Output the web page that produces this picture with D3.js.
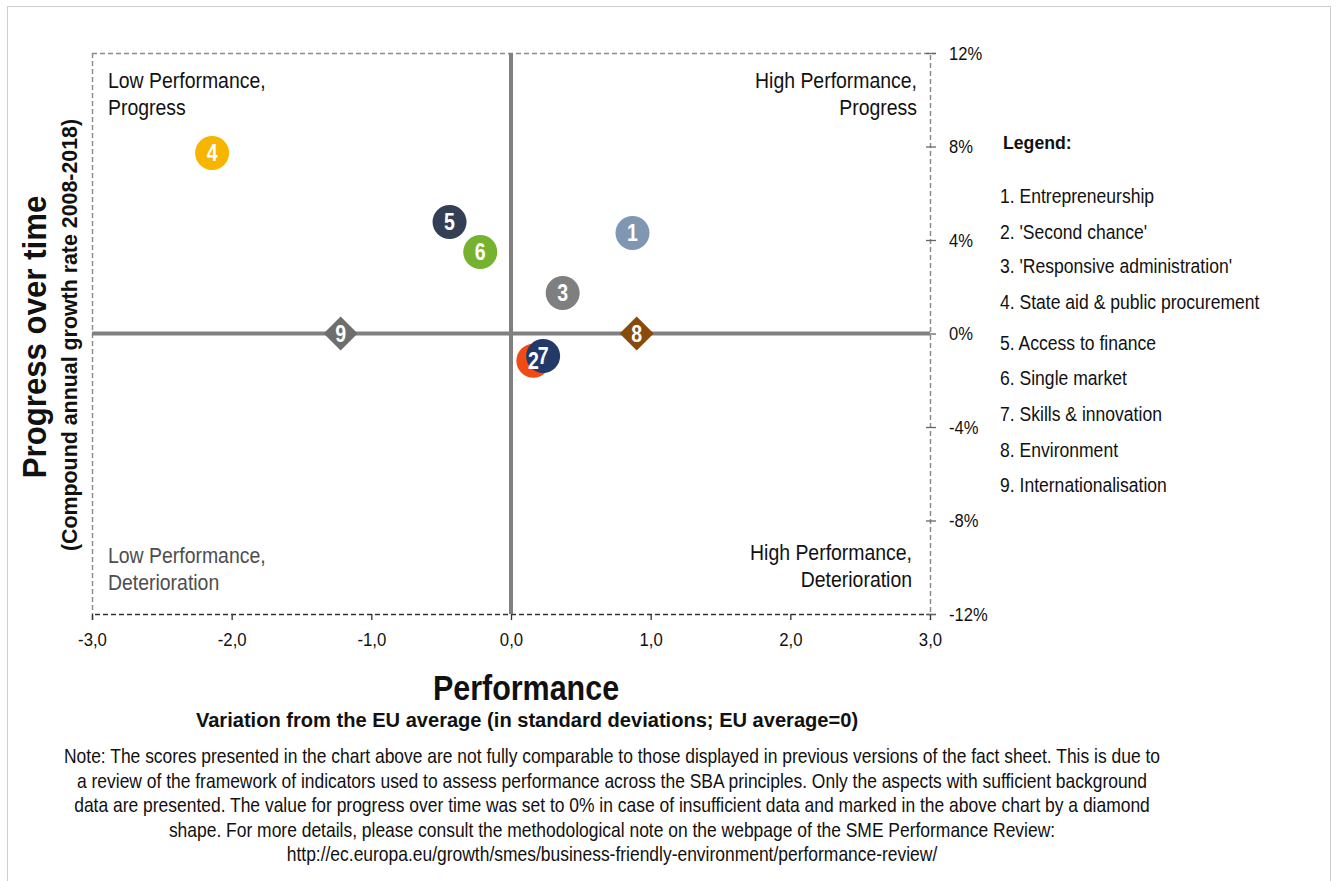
<!DOCTYPE html>
<html>
<head>
<meta charset="utf-8">
<script src="https://cdn.jsdelivr.net/npm/d3@7"></script>
<style>
  html, body { margin: 0; padding: 0; background: #fff; }
  svg { display: block; }
  text { font-family: "Liberation Sans", Arial, sans-serif; }
</style>
</head>
<body>
<svg id="chart" width="1336" height="881"></svg>
<script>
// SBA principles: performance (std. deviations from EU average) vs. progress over time (%)
const principleIds = ["1", "2", "3", "4", "5", "6", "7", "8", "9"];
const performance = [0.87, 0.16, 0.37, -2.14, -0.44, -0.22, 0.23, 0.90, -1.22];
const progress = [4.3, -1.17, 1.73, 7.72, 4.77, 3.49, -0.96, 0, 0];
const markerShapes = ["circle", "circle", "circle", "circle", "circle", "circle", "circle", "diamond", "diamond"];
const markerColors = ["#8197b1", "#f04b14", "#7f7f7f", "#f7b500", "#333f55", "#76b22f", "#233a69", "#8a4a0c", "#6e6e6e"];
const legendItems = [
  "1. Entrepreneurship",
  "2. 'Second chance'",
  "3. 'Responsive administration'",
  "4. State aid & public procurement",
  "5. Access to finance",
  "6. Single market",
  "7. Skills & innovation",
  "8. Environment",
  "9. Internationalisation"
];
const xTicks = [-3, -2, -1, 0, 1, 2, 3];
const yTicks = [12, 8, 4, 0, -4, -8, -12];
const noteLines = [
  "Note: The scores presented in the chart above are not fully comparable to those displayed in previous versions of the fact sheet. This is due to",
  "a review of the framework of indicators used to assess performance across the SBA principles. Only the aspects with sufficient background",
  "data are presented. The value for progress over time was set to 0% in case of insufficient data and marked in the above chart by a diamond",
  "shape. For more details, please consult the methodological note on the webpage of the SME Performance Review:",
  "http://ec.europa.eu/growth/smes/business-friendly-environment/performance-review/"
];

// narrow-style lettering: regular glyphs squeezed horizontally
const SQ = 0.9;
function label(parent, x, y, str, size, opts = {}) {
  const t = parent.append("text")
    .attr("transform", `translate(${x},${y})${opts.rotate ? ` rotate(${opts.rotate})` : ""} scale(${opts.sq || SQ},1)`)
    .attr("text-anchor", opts.anchor || "start")
    .attr("font-size", size)
    .attr("font-weight", opts.bold ? "bold" : "normal")
    .attr("fill", opts.fill || "#111");
  if (Array.isArray(str)) {
    str.forEach((l, i) => t.append("tspan").attr("x", 0).attr("dy", i === 0 ? 0 : opts.lh).text(l));
  } else {
    t.text(str);
  }
  return t;
}

const svg = d3.select("#chart");

// outer dotted frame
svg.append("rect")
  .attr("x", 7.5).attr("y", 6.5).attr("width", 1323).attr("height", 880)
  .attr("fill", "none").attr("stroke", "#9a9a9a").attr("stroke-width", 1)
  .attr("stroke-dasharray", "1,1");

const plot = { left: 92, right: 930, top: 53, bottom: 614 };
const x = d3.scaleLinear().domain([-3, 3]).range([plot.left, plot.right]);
const y = d3.scaleLinear().domain([-12, 12]).range([plot.bottom, plot.top]);

// dashed plot border (top and left)
svg.append("line")
  .attr("x1", plot.left).attr("x2", plot.right).attr("y1", plot.top + 0.5).attr("y2", plot.top + 0.5)
  .attr("stroke", "#8c8c8c").attr("stroke-width", 1.5).attr("stroke-dasharray", "5,3");
svg.append("line")
  .attr("x1", plot.left + 0.5).attr("x2", plot.left + 0.5).attr("y1", plot.top).attr("y2", plot.bottom)
  .attr("stroke", "#8c8c8c").attr("stroke-width", 1.5).attr("stroke-dasharray", "5,3");

// bottom axis
const xAxis = d3.axisBottom(x).tickValues(xTicks)
  .tickFormat(d => d3.format(".1f")(d).replace(".", ",").replace("−", "-"))
  .tickSizeOuter(0).tickSize(6).tickPadding(13);
const gx = svg.append("g").attr("transform", `translate(0,${plot.bottom})`).call(xAxis);
gx.select(".domain").attr("stroke", "#333").attr("stroke-width", 1.3).attr("stroke-dasharray", "5,3");
gx.selectAll(".tick line").attr("stroke", "#333").attr("stroke-width", 1.3);
gx.selectAll(".tick text").attr("font-size", 19).attr("fill", "#111")
  .attr("transform", `scale(${SQ * 0.98},1)`)
  .style("font-family", "'Liberation Sans',Arial,sans-serif");

// right axis
const yAxis = d3.axisRight(y).tickValues(yTicks)
  .tickFormat(d => d + "%")
  .tickSizeOuter(0).tickSize(6).tickPadding(0);
const gy = svg.append("g").attr("transform", `translate(${plot.right},0)`).call(yAxis);
gy.select(".domain").attr("stroke", "#8c8c8c").attr("stroke-width", 1.5).attr("stroke-dasharray", "5,3");
gy.selectAll(".tick line").attr("stroke", "#666").attr("stroke-width", 1.3).attr("x1", -4);
gy.selectAll(".tick text").attr("font-size", 19).attr("fill", "#111").attr("x", 0)
  .attr("transform", `translate(19,0) scale(${SQ * 0.97},1)`)
  .style("font-family", "'Liberation Sans',Arial,sans-serif");

// zero lines dividing the quadrants
svg.append("line")
  .attr("x1", plot.left).attr("x2", plot.right).attr("y1", y(0)).attr("y2", y(0))
  .attr("stroke", "#808080").attr("stroke-width", 4);
svg.append("line")
  .attr("x1", x(0)).attr("x2", x(0)).attr("y1", plot.top).attr("y2", plot.bottom)
  .attr("stroke", "#808080").attr("stroke-width", 4);

// quadrant captions
label(svg, 108, 88, ["Low Performance,", "Progress"], 21.6, { lh: 27 });
label(svg, 917, 88, ["High Performance,", "Progress"], 21.6, { lh: 27, anchor: "end" });
label(svg, 108, 563, ["Low Performance,", "Deterioration"], 21.6, { lh: 27, fill: "#4d4d4d" });
label(svg, 912, 560, ["High Performance,", "Deterioration"], 21.6, { lh: 27, anchor: "end" });

// markers: shapes first, numbers on top
const points = principleIds.map((id, i) => ({
  id, px: performance[i], py: progress[i], shape: markerShapes[i], color: markerColors[i]
}));
const shapes = svg.append("g").selectAll("g").data(points).join("g")
  .attr("transform", d => `translate(${x(d.px)},${y(d.py)})`);
shapes.filter(d => d.shape === "circle").append("circle").attr("r", 17).attr("fill", d => d.color);
shapes.filter(d => d.shape === "diamond").append("path")
  .attr("d", "M0,-17L17,0L0,17L-17,0Z").attr("fill", d => d.color);
svg.append("g").selectAll("text").data(points).join("text")
  .attr("transform", d => `translate(${x(d.px)},${y(d.py)}) scale(0.85,1)`)
  .attr("text-anchor", "middle").attr("dy", "0.36em")
  .attr("font-size", 23).attr("font-weight", "bold").attr("fill", "#fff")
  .text(d => d.id);

// axis titles
label(svg, 46, 337, "Progress over time", 32.5, { bold: true, rotate: -90, anchor: "middle", sq: 0.96 });
label(svg, 77, 335, "(Compound annual growth rate 2008-2018)", 22.5, { bold: true, rotate: -90, anchor: "middle", sq: 0.95 });
label(svg, 526, 700, "Performance", 35, { bold: true, anchor: "middle", sq: 0.87 });
label(svg, 527, 727, "Variation from the EU average (in standard deviations; EU average=0)", 20.5, { bold: true, anchor: "middle", sq: 0.98 });

// legend
label(svg, 1003, 149, "Legend:", 19, { bold: true, sq: 0.93 });
const legendY = [203, 239, 273, 309, 350, 385, 421, 457, 492];
const lg = svg.append("g");
legendItems.forEach((d, i) => label(lg, 1000, legendY[i], d, 19.5, {}));

// note
const ng = svg.append("g");
noteLines.forEach((d, i) => label(ng, 612, 763 + i * 24.5, d, 19.4, { anchor: "middle" }));
</script>
</body>
</html>
